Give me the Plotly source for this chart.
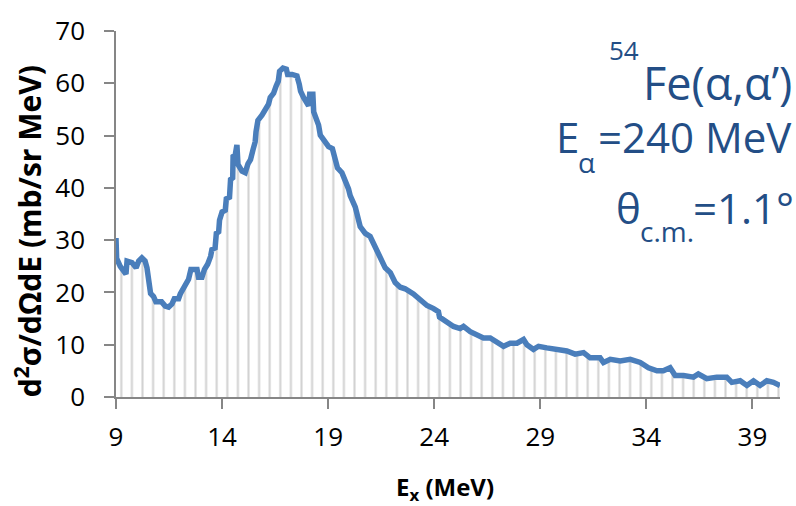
import plotly.graph_objects as go

# Excitation energy (MeV) and double-differential cross section (mb/sr MeV)
ex = [9.00, 9.03, 9.20, 9.36, 9.47, 9.52, 9.75, 9.95, 10.07, 10.22, 10.37, 10.46, 10.56, 10.63,
      10.77, 10.88, 11.15, 11.32, 11.48, 11.64, 11.75, 11.95, 12.03, 12.19, 12.28, 12.42, 12.53,
      12.82, 12.89, 13.05, 13.17, 13.32, 13.46, 13.52, 13.67, 13.73, 13.84, 13.88, 14.00, 14.15,
      14.20, 14.35, 14.40, 14.50, 14.52, 14.62, 14.70, 14.75, 14.94, 15.09, 15.22, 15.34, 15.46,
      15.56, 15.60, 15.69, 15.88, 16.04, 16.19, 16.27, 16.43, 16.55, 16.65, 16.71, 16.87, 17.03,
      17.09, 17.30, 17.53, 17.64, 17.70, 17.84, 17.98, 18.08, 18.13, 18.28, 18.32, 18.44, 18.55,
      18.63, 18.86, 19.02, 19.20, 19.30, 19.44, 19.65, 19.80, 19.96, 20.04, 20.28, 20.51, 20.75,
      20.98, 21.22, 21.46, 21.69, 21.93, 22.16, 22.40, 22.63, 23.02, 23.34, 23.66, 23.97, 24.20,
      24.25, 24.60, 24.91, 25.22, 25.38, 25.70, 26.00, 26.32, 26.64, 26.95, 27.27, 27.58, 27.90,
      28.21, 28.37, 28.68, 28.92, 29.31, 29.78, 30.25, 30.64, 31.04, 31.35, 31.82, 31.98, 32.30,
      32.77, 33.24, 33.71, 34.10, 34.50, 34.80, 35.12, 35.36, 35.75, 36.22, 36.45, 36.85, 37.32,
      37.79, 38.03, 38.42, 38.74, 39.05, 39.36, 39.68, 39.99, 40.30]
xs = [30.4, 26.5, 25.0, 23.8, 23.5, 26.0, 25.7, 24.7, 26.0, 26.6, 26.0, 24.7, 22.5, 19.8,
      19.2, 18.2, 18.2, 17.4, 17.2, 17.8, 18.8, 18.8, 19.7, 20.7, 21.6, 22.5, 24.4,
      24.4, 22.9, 22.9, 24.4, 25.4, 26.9, 28.2, 28.5, 31.3, 31.6, 33.8, 35.4, 35.7,
      37.9, 38.2, 41.6, 41.9, 46.0, 46.3, 48.2, 44.5, 43.2, 42.9, 44.6, 45.4, 47.3,
      48.8, 50.7, 52.9, 53.9, 54.8, 56.0, 57.3, 58.1, 59.5, 60.4, 62.3, 62.9, 62.7,
      61.7, 61.7, 61.4, 59.8, 58.5, 57.3, 56.0, 55.7, 57.9, 57.9, 54.5, 53.5, 52.0,
      50.1, 48.8, 47.9, 47.5, 45.5, 43.8, 42.9, 41.6, 39.8, 38.5, 36.3, 32.6, 31.3,
      30.7, 28.5, 26.3, 24.7, 23.8, 21.9, 21.0, 20.7, 19.7, 18.5, 17.5, 16.9, 16.3,
      15.3, 14.4, 13.5, 13.1, 13.5, 12.5, 11.9, 11.3, 11.3, 10.6, 9.7, 10.3, 10.3,
      11.0, 10.0, 9.1, 9.7, 9.4, 9.1, 8.8, 8.2, 8.5, 7.5, 7.5, 6.6, 7.2,
      6.9, 7.2, 6.6, 5.6, 5.0, 5.0, 5.6, 4.1, 4.1, 3.8, 4.4, 3.5, 3.8,
      3.8, 2.8, 3.1, 2.2, 3.1, 2.2, 3.1, 2.8, 2.2]

x_ticks = [9, 14, 19, 24, 29, 34, 39]
y_ticks = [0, 10, 20, 30, 40, 50, 60, 70]

W, H = 796, 506
L, R, T, B = 116, 16, 24, 109
PW, PH = W - L - R, H - T - B


def px(xp):
    return (xp - L) / PW


def py(yp):
    return (T + PH - yp) / PH


TXT = "#234e86"
FONT = "Open Sans, Calibri, Liberation Sans, sans-serif"

fig = go.Figure()
fig.add_trace(go.Scatter(
    x=ex, y=xs, mode="lines",
    line=dict(color="#4a7ebb", width=5.5),
    fill="tozeroy", fillcolor="rgba(0,0,0,0)",
    fillpattern=dict(shape="|", size=10.6, solidity=0.2,
                     fgcolor="#a6a6a6", bgcolor="rgba(0,0,0,0)", fillmode="overlay"),
    showlegend=False, hoverinfo="skip",
))

fig.update_layout(
    width=W, height=H,
    margin=dict(l=L, r=R, t=T, b=B),
    paper_bgcolor="white", plot_bgcolor="white",
    font=dict(family=FONT, color="black"),
    xaxis=dict(range=[9, 40.3], tickvals=x_ticks, ticktext=[str(v) for v in x_ticks],
               showgrid=False, zeroline=False, showline=True, linecolor="#868686", linewidth=1.5,
               ticks="outside", ticklen=10, tickcolor="#868686", tickwidth=1.5,
               tickfont=dict(size=26, family=FONT, color="black"), ticklabelstandoff=6),
    yaxis=dict(range=[0, 70], tickvals=y_ticks, ticktext=[str(v) for v in y_ticks],
               showgrid=False, zeroline=False, showline=True, linecolor="#868686", linewidth=1.5,
               ticks="outside", ticklen=10, tickcolor="#868686", tickwidth=1.5,
               tickfont=dict(size=26, family=FONT, color="black"), ticklabelstandoff=14),
)

ann = []
# axis titles
ann.append(dict(text="d<sup>2</sup>σ/dΩdE (mb/sr MeV)", x=px(29), y=py(228), textangle=-90,
                font=dict(size=30, family=FONT, color="black", weight="bold")))
ann.append(dict(text="E<sub>x</sub> (MeV)", x=px(445), y=py(490),
                font=dict(size=24, family=FONT, color="black", weight="bold")))
# reaction label
ann.append(dict(text="54", x=px(641), y=py(43), xanchor="right", font=dict(size=26, family=FONT, color=TXT)))
ann.append(dict(text="Fe(α,α’)", x=px(794), y=py(76), xanchor="right", font=dict(size=45, family=FONT, color=TXT)))
ann.append(dict(text="E", x=px(554), y=py(132), xanchor="left", font=dict(size=42, family=FONT, color=TXT)))
ann.append(dict(text="α", x=px(576), y=py(158), xanchor="left", font=dict(size=28, family=FONT, color=TXT)))
ann.append(dict(text="=240 MeV", x=px(794), y=py(132), xanchor="right", font=dict(size=42, family=FONT, color=TXT)))
ann.append(dict(text="θ", x=px(614), y=py(204), xanchor="left", font=dict(size=42, family=FONT, color=TXT)))
ann.append(dict(text="c.m.", x=px(638), y=py(228), xanchor="left", font=dict(size=28, family=FONT, color=TXT)))
ann.append(dict(text="=1.1°", x=px(796), y=py(204), xanchor="right", font=dict(size=42, family=FONT, color=TXT)))
for a in ann:
    a.update(xref="paper", yref="paper", showarrow=False)
    a.setdefault("xanchor", "center")
    a.setdefault("yanchor", "middle")
fig.update_layout(annotations=ann)

fig.write_html("out.html")
